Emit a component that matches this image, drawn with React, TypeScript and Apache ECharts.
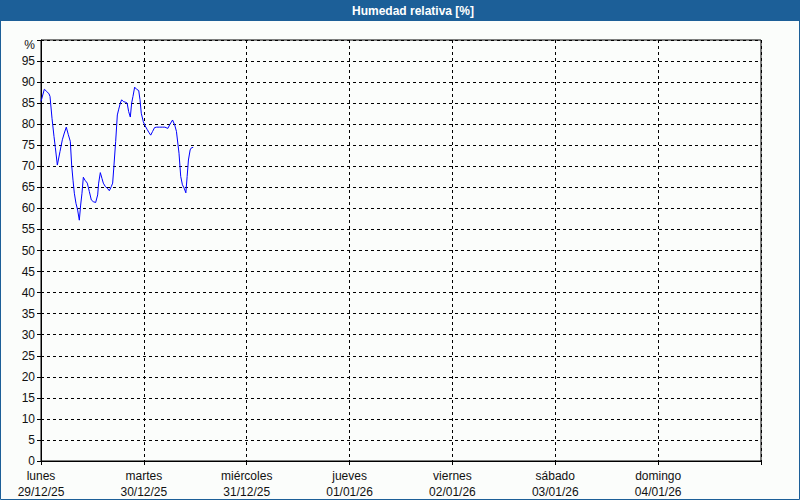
import React, { useEffect, useRef } from "react";
import * as echarts from "echarts";

const dayNames = ["lunes", "martes", "miércoles", "jueves", "viernes", "sábado", "domingo"];
const dayDates = ["29/12/25", "30/12/25", "31/12/25", "01/01/26", "02/01/26", "03/01/26", "04/01/26"];

// hours since 29/12/25 00:00
const hours = [
  0, 0.78, 1.32, 1.87, 2.1, 2.57, 3.03, 3.34, 3.81, 4.43, 4.98, 5.44, 5.9, 6.38, 6.84, 7.15, 7.47, 7.78,
  8.16, 8.55, 8.94, 9.25, 9.56, 9.88, 10.26, 10.8, 11.28, 11.74, 12.2, 12.75, 13.22, 13.45, 13.84, 14.23,
  14.54, 15.0, 15.47, 15.94, 16.41, 16.72, 17.03, 17.42, 17.81, 18.1, 18.5, 18.82, 19.2, 19.75, 20.1, 20.45,
  20.84, 21.15, 21.46, 21.85, 22.3, 22.8, 23.1, 23.4, 23.87, 24.3, 24.8, 25.2, 25.6, 26.05, 26.5, 27.0,
  27.6, 28.3, 28.9, 29.6, 30.1, 30.7, 31.2, 31.6, 32.2, 32.6, 33.0, 33.4, 33.8, 34.1, 34.4, 34.8, 35.1, 35.5,
];
const humidity = [
  85.4, 88.3, 87.8, 87.2, 86.6, 81.4, 77.1, 74.5, 70.3, 73.5, 76.3, 77.9, 79.3, 77.5, 75.9, 70.3, 66.7, 63.6,
  61.2, 59.6, 57.2, 60.8, 63.6, 67.4, 66.7, 66.0, 64.0, 62.0, 61.6, 61.4, 63.2, 66.0, 68.5, 67.1,
  66.0, 65.2, 64.8, 64.2, 65.2, 66.0, 70.3, 75.9, 82.2, 83.4, 85.0, 85.8, 85.4, 85.2, 85.0, 83.0,
  81.7, 85.0, 86.6, 88.8, 88.3, 88.0, 85.8, 82.6, 80.6, 79.6, 78.7, 78.0, 77.4, 78.3, 79.2, 79.3,
  79.3, 79.3, 79.3, 79.0, 80.0, 81.0, 79.8, 78.3, 73.1, 67.6, 65.6, 64.8, 63.7, 67.6, 71.5, 73.9, 74.4, 74.5,
];

const BLUE = "#1c5f98";
const FONT = "Liberation Sans";

export default function App() {
  const ref = useRef<HTMLDivElement>(null);
  useEffect(() => {
    if (!ref.current) return;
    const chart = echarts.init(ref.current, null, { renderer: "svg" });
    const data = hours.map((h, i) => [h, humidity[i]]);
    chart.setOption({
      animation: false,
      backgroundColor: "#fbfdfb",
      graphic: [
        { type: "rect", shape: { x: 0, y: 0, width: 800, height: 21 }, style: { fill: BLUE }, z: 10 },
        {
          type: "rect",
          shape: { x: 0.5, y: 0.5, width: 799, height: 499 },
          style: { fill: "none", stroke: BLUE, lineWidth: 1 },
          z: 10,
        },
        {
          type: "text",
          x: 413,
          y: 10.5,
          style: {
            text: "Humedad relativa [%]",
            fill: "#ffffff",
            font: `bold 12px "${FONT}"`,
            align: "center",
            verticalAlign: "middle",
          },
          z: 11,
        },
      ],
      grid: {
        left: 41,
        top: 40,
        width: 720,
        height: 421,
        show: true,
        borderColor: "#000",
        borderWidth: 1,
        backgroundColor: "transparent",
      },
      xAxis: {
        type: "value",
        min: 0,
        max: 168,
        interval: 24,
        axisLine: { show: true, lineStyle: { color: "#000", width: 1 } },
        axisTick: { show: true, length: 4, lineStyle: { color: "#000" } },
        splitLine: { show: true, lineStyle: { color: "#000", type: [3, 3], width: 1 } },
        axisLabel: {
          margin: 7,
          color: "#111",
          fontFamily: FONT,
          fontSize: 12,
          lineHeight: 16,
          formatter: (v: number) => {
            const i = Math.round(v / 24);
            if (i >= dayNames.length) return "";
            return `${dayNames[i]}\n${dayDates[i]}`;
          },
        },
      },
      yAxis: {
        type: "value",
        min: 0,
        max: 100,
        interval: 5,
        axisLine: { show: true, lineStyle: { color: "#000", width: 1 } },
        axisTick: { show: true, length: 4, lineStyle: { color: "#000" } },
        splitLine: { show: true, lineStyle: { color: "#000", type: [3, 3], width: 1 } },
        axisLabel: {
          margin: 6,
          color: "#111",
          fontFamily: FONT,
          fontSize: 12,
          formatter: (v: number) => (v === 100 ? "{p|%}" : String(v)),
          rich: {
            p: { padding: [10, 0, 0, 0], color: "#111", fontFamily: FONT, fontSize: 12 },
          },
        },
      },
      series: [
        {
          type: "line",
          data,
          showSymbol: false,
          lineStyle: { color: "#0000ff", width: 1 },
          itemStyle: { color: "#0000ff" },
        },
      ],
    });
    return () => chart.dispose();
  }, []);
  return (
    <div
      ref={ref}
      style={{ position: "absolute", left: 0, top: 0, width: 800, height: 500 }}
    />
  );
}
